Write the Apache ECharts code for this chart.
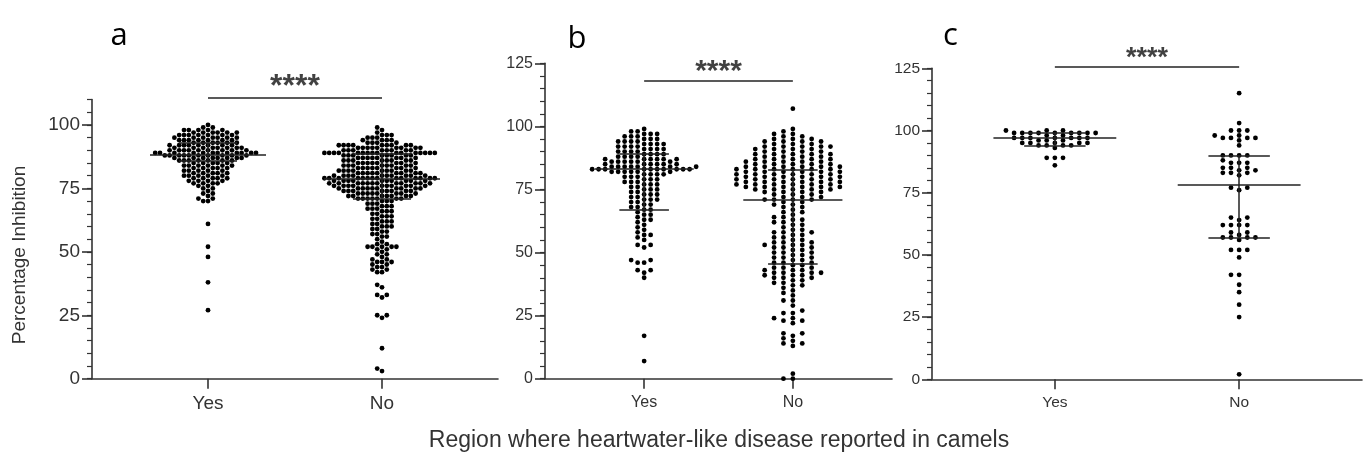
<!DOCTYPE html>
<html>
<head>
<meta charset="utf-8">
<script src="https://cdn.jsdelivr.net/npm/echarts@6/dist/echarts.min.js"></script>
<style>
html,body{margin:0;padding:0;background:#fff;}
#chart{width:1365px;height:457px;}
</style>
</head>
<body>
<div id="chart"></div>
<script>
// ---------------- data ----------------
const categories = ['Yes', 'No'];
const panelLetters = ['a', 'b', 'c'];
const yTickValues = [[0, 25, 50, 75, 100], [0, 25, 50, 75, 100, 125], [0, 25, 50, 75, 100, 125]];
const yMaxValues = [110, 125, 125];
const xAxisTitle = 'Region where heartwater-like disease reported in camels';
const yAxisTitle = 'Percentage Inhibition';
const significance = ['****', '****', '****'];

// each dot level (percentage inhibition) and how many dots sit at it
const aYesLevels = [100,99,98,97,96,95,94,93,92,91,90,89,88,87,86,85,84,83,82,81,80,79,78,77,76,75,74,73,72,71,70,61,52,48,38,27];
const aYesCounts = [1,2,5,6,7,7,7,6,8,8,9,12,10,8,7,5,6,5,5,5,5,5,4,4,2,2,1,2,1,2,2,1,1,1,1,1];

const aNoLevels = [99,98,97,96,95,94,93,92,91,90,89,88,87,86,85,84,83,82,81,80,79,78,77,76,75,74,73,72,71,70,69,68,67,66,65,64,63,62,61,60,59,58,57,56,55,54,53,52,51,50,49,48,47,46,45,44,43,42,37,36,33,32,25,24,12,4,3];
const aNoCounts  = [1,1,1,3,3,4,4,9,9,8,16,8,8,8,8,8,8,9,9,10,14,10,12,10,10,8,8,7,7,3,3,3,3,3,2,3,2,3,2,3,2,2,2,2,1,1,2,5,2,1,2,1,2,3,2,2,2,2,1,1,2,1,2,1,1,1,1];

const bYesLevels = [99,98,97,96,95,94,93,92,91,90,89,88,87,86,85,84,83,82,81,80,79,78,77,76,75,74,73,72,71,70,69,68,67,66,65,64,63,62,61,60,59,58,57,56,55,53,52,47,46,43,42,40,17,7];
const bYesCounts = [1,2,3,3,3,4,4,4,4,4,4,4,6,6,6,7,10,6,4,3,3,3,3,2,3,2,3,2,3,2,2,2,2,1,2,1,2,1,1,1,1,1,2,1,1,2,1,2,2,2,1,1,1,1];

const bNoLevels = [107,99,98,97,96,95,94,93,92,91,90,89,88,87,86,85,84,83,82,81,80,79,78,77,76,75,74,73,72,71,70,69,68,67,66,65,64,63,62,61,60,59,58,57,56,55,54,53,52,51,50,49,48,47,46,45,44,43,42,41,40,39,38,37,36,35,34,33,31,29,27,26,24,23,22,18,17,16,15,14,13,2,0];
const bNoCounts  = [1,1,1,2,2,3,4,3,5,4,4,5,4,5,5,5,6,6,6,6,6,6,6,6,6,5,4,3,3,4,2,2,2,1,2,1,2,2,2,2,1,2,3,2,2,2,3,3,3,2,3,2,3,2,3,2,3,3,4,3,3,2,2,2,1,1,1,1,2,1,1,2,2,2,1,2,1,1,1,2,1,1,2];

const cYesLevels = [100,99,98,97,96,95,94,93,89,86];
const cYesCounts = [3,9,2,7,3,5,4,1,3,1];

const cNoLevels = [115,103,100,98,97,96,94,90,88,87,85,84,83,82,77,76,65,64,62,59,58,57,56,52,49,42,38,35,30,25,2];
const cNoCounts  = [1,1,3,2,4,1,1,4,1,3,3,2,3,1,2,1,2,1,4,2,1,4,1,3,1,2,1,1,1,1,1];

// [Q1, median, Q3] lines
const aYesStats = [86, 88.2, 93];
const aNoStats  = [71.1, 79, 88.8];
const bYesStats = [67, 83.1, 89];
const bNoStats  = [45.4, 70.8, 82.7];
const cYesStats = [94, 97.1, 99];
const cNoStats  = [57, 78, 90];

// significance bar height and star position (data units)
const sigBarValues  = [110.6, 118.1, 125.6];
const sigStarValues = [117.1, 124.0, 131.3];

// ---------------- layout ----------------
const panels = [
  {left: 92,  top: 99.6, width: 406, height: 279.1, font: 19, labelMargin: 16, letterX: 119,   starFont: 32},
  {left: 545, top: 63.3, width: 347, height: 315.4, font: 16, labelMargin: 16, letterX: 577,   starFont: 30},
  {left: 932, top: 68.3, width: 443, height: 311.0, font: 15.5, labelMargin: 15, letterX: 950.5, starFont: 27}
];
const letterY = [35.7, 38.7, 35.7];
const dotSteps = [[4.8, 4.8], [6.5, 9.4], [8.4, 8.4]];   // horizontal pitch in px
const dotDiam = 4.8;
const X_MAX = 7, centers = [2, 5];

function expand(levels, counts) {
  const out = [];
  levels.forEach((v, i) => { for (let k = 0; k < counts[i]; k++) out.push(v); });
  return out;
}
const panelValues = [
  [expand(aYesLevels, aYesCounts), expand(aNoLevels, aNoCounts)],
  [expand(bYesLevels, bYesCounts), expand(bNoLevels, bNoCounts)],
  [expand(cYesLevels, cYesCounts), expand(cNoLevels, cNoCounts)]
];
const panelStats = [[aYesStats, aNoStats], [bYesStats, bNoStats], [cYesStats, cNoStats]];

function swarm(values, center, stepPx, pxPerUnitY, unitPerPxX) {
  const sorted = values.slice().sort((a, b) => a - b);
  const slots = {};
  const out = [];
  sorted.forEach(v => {
    const y = v * pxPerUnitY;
    for (let k = 0; ; k++) {
      const s = k === 0 ? 0 : (k % 2 ? -Math.ceil(k / 2) : Math.ceil(k / 2));
      const arr = slots[s] || (slots[s] = []);
      if (arr.every(yy => Math.abs(yy - y) >= 4.6)) {
        arr.push(y);
        out.push([center + s * stepPx * unitPerPxX, v]);
        break;
      }
    }
  });
  return out;
}

const TXT = '#333', LINE = '#333', FONT = '"Liberation Sans", Arial, sans-serif';
const grid = [], xAxis = [], yAxis = [], series = [], graphic = [];

panels.forEach((p, g) => {
  grid.push({left: p.left, top: p.top, width: p.width, height: p.height});
  const catData = [];
  for (let i = 0; i <= X_MAX; i++) catData.push(i === centers[0] ? categories[0] : (i === centers[1] ? categories[1] : ''));
  xAxis.push({type: 'value', gridIndex: g, min: 0, max: X_MAX, show: false, position: 'bottom'});
  xAxis.push({
    type: 'category', gridIndex: g, data: catData, boundaryGap: false, position: 'bottom',
    axisLine: {show: true, lineStyle: {color: LINE, width: 1.6}},
    axisTick: {show: true, length: 10, interval: (i, v) => v !== '', lineStyle: {color: LINE, width: 1.6}},
    axisLabel: {interval: 0, fontSize: p.font, color: TXT, fontFamily: FONT, margin: p.labelMargin},
    splitLine: {show: false}
  });
  yAxis.push({
    type: 'value', gridIndex: g, min: 0, max: yMaxValues[g], interval: 5, position: 'left',
    axisLine: {show: true, lineStyle: {color: LINE, width: 1.6}},
    axisTick: {show: true, length: 5, lineStyle: {color: LINE, width: 1.2}},
    axisLabel: {formatter: v => (yTickValues[g].indexOf(v) >= 0 ? String(v) : ''), fontSize: p.font, color: TXT, fontFamily: FONT, margin: 12},
    splitLine: {show: false}
  });
  yAxis.push({
    type: 'value', gridIndex: g, min: 0, max: yMaxValues[g], interval: 25, position: 'left',
    axisLine: {show: false},
    axisTick: {show: true, length: 10, customValues: yTickValues[g], lineStyle: {color: LINE, width: 1.6}},
    axisLabel: {show: false},
    splitLine: {show: false}
  });

  const pxPerUnitY = p.height / yMaxValues[g];
  const unitPerPxX = X_MAX / p.width;
  panelValues[g].forEach((vals, j) => {
    series.push({
      type: 'scatter', xAxisIndex: 2 * g, yAxisIndex: 2 * g, clip: false, silent: true, animation: false, z: 2,
      symbol: 'circle', symbolSize: dotDiam, itemStyle: {color: '#000', opacity: 1},
      data: swarm(vals, centers[j], dotSteps[g][j], pxPerUnitY, unitPerPxX)
    });
  });
  const segs = [];
  panelStats[g].forEach((st, j) => {
    const c = centers[j];
    segs.push({coords: [[c - 1, st[1]], [c + 1, st[1]]]});
    segs.push({coords: [[c - 0.5, st[0]], [c + 0.5, st[0]]]});
    segs.push({coords: [[c - 0.5, st[2]], [c + 0.5, st[2]]]});
    segs.push({coords: [[c, st[0]], [c, st[2]]]});
  });
  series.push({
    type: 'lines', coordinateSystem: 'cartesian2d', xAxisIndex: 2 * g, yAxisIndex: 2 * g,
    data: segs, z: 4, silent: true, animation: false,
    lineStyle: {color: '#222', width: 1.5, opacity: 1}
  });
  series.push({
    type: 'lines', coordinateSystem: 'cartesian2d', xAxisIndex: 2 * g, yAxisIndex: 2 * g,
    data: [{coords: [[centers[0], sigBarValues[g]], [centers[1], sigBarValues[g]]]}],
    z: 4, silent: true, animation: false, clip: false,
    lineStyle: {color: '#222', width: 1.7, opacity: 1}
  });
  series.push({
    type: 'scatter', xAxisIndex: 2 * g, yAxisIndex: 2 * g, clip: false, silent: true, animation: false, z: 4,
    symbolSize: 0, data: [[(centers[0] + centers[1]) / 2, sigStarValues[g]]],
    label: {show: true, position: 'inside', formatter: significance[g], fontSize: p.starFont, fontWeight: 'bold', color: '#111', fontFamily: FONT, offset: [0, 6]}
  });
  graphic.push({type: 'text', x: p.letterX, y: letterY[g], silent: true,
    style: {text: panelLetters[g], fontSize: 31, fontFamily: '"Open Sans", sans-serif', fill: '#000', align: 'center', verticalAlign: 'middle'}});
});

graphic.push({type: 'text', x: 20, y: 255, rotation: Math.PI / 2, silent: true,
  style: {text: yAxisTitle, fontSize: 19, fontFamily: FONT, fill: TXT, align: 'center', verticalAlign: 'middle'}});
graphic.push({type: 'text', x: 719, y: 441, silent: true,
  style: {text: xAxisTitle, fontSize: 23, fontFamily: FONT, fill: TXT, align: 'center', verticalAlign: 'middle'}});

const chart = echarts.init(document.getElementById('chart'), null, {renderer: 'canvas'});
chart.setOption({backgroundColor: '#fff', animation: false, grid, xAxis, yAxis, series, graphic});
</script>
</body>
</html>
